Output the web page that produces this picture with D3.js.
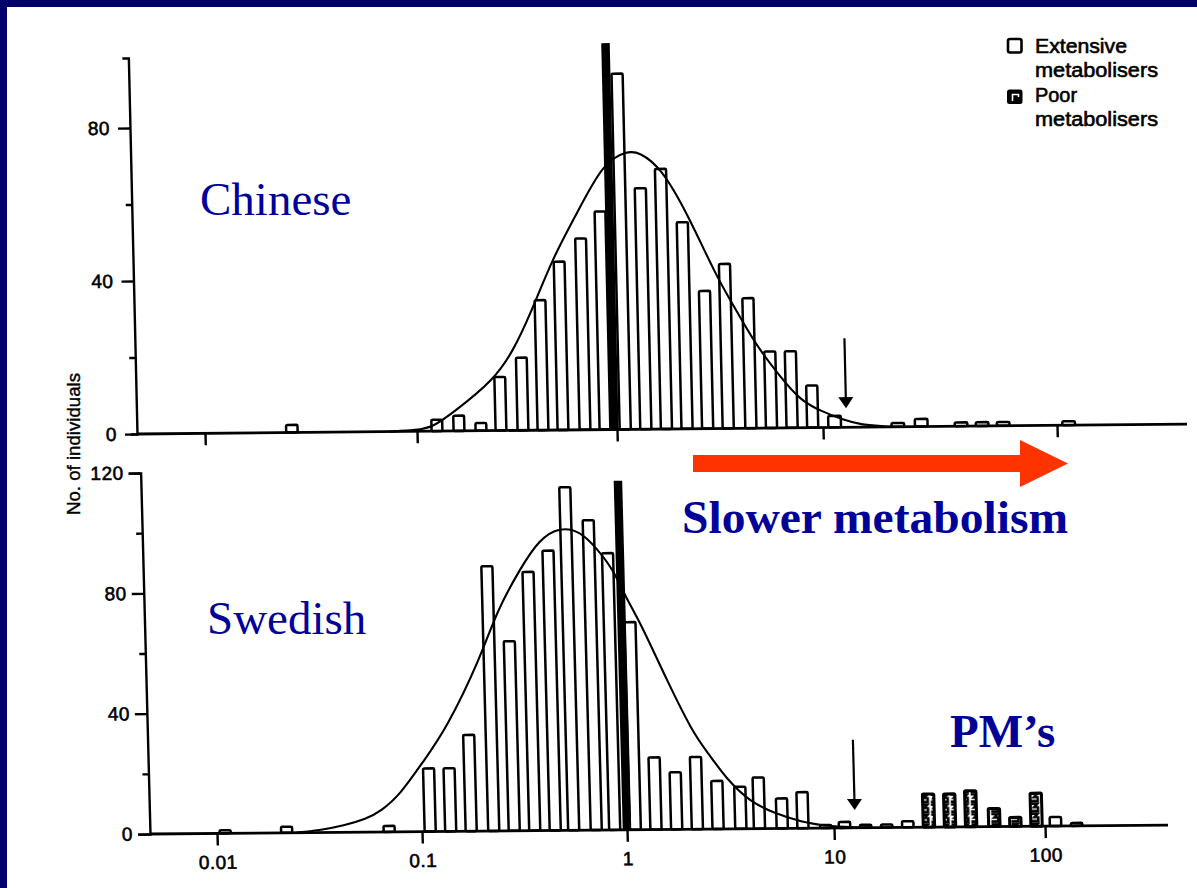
<!DOCTYPE html>
<html><head><meta charset="utf-8"><title>Debrisoquine metabolic ratio</title>
<script src="https://cdn.jsdelivr.net/npm/d3@7/dist/d3.min.js"></script>
<style>html,body{margin:0;padding:0;background:#fff}svg{display:block}</style>
</head><body>
<script>
// ---------------- data ----------------
const xTickValues = [0.01, 0.1, 1, 10, 100];
const xTickLabels = ["0.01", "0.1", "1", "10", "100"];

// Chinese panel: log10(metabolic ratio) bin centre and number of individuals
const chineseLogMR = [-1.59, -0.90, -0.79, -0.68, -0.58, -0.47, -0.37, -0.27, -0.16, -0.06, 0.04, 0.14, 0.24, 0.34, 0.44, 0.54, 0.65, 0.75, 0.85, 0.95, 1.05, 1.32, 1.42, 1.59, 1.68, 1.77, 2.05];
const chineseCount = [2, 3, 4, 2, 14, 19, 34, 44, 50, 57, 93, 63, 68, 54, 36, 43, 34, 20, 20, 11, 3, 1, 2, 1, 1, 1, 1];
// fitted curve (Chinese)
const chineseCurveLog = [-1.13, -1.0, -0.92, -0.82, -0.61, -0.51, -0.42, -0.30, -0.175, -0.04, 0.08, 0.14, 0.24, 0.365, 0.50, 0.60, 0.69, 0.80, 0.89, 0.99, 1.09, 1.16, 1.29];
const chineseCurveN = [0, 0.3, 1.1, 4.7, 13.2, 20.8, 30.3, 45.2, 56.6, 69.7, 72.8, 72.4, 68.5, 56.4, 39.6, 30.1, 21.2, 13.3, 7.3, 4.3, 1.9, 0.6, 0];

// Swedish panel: extensive metabolisers
const swedishLogMR = [-1.96, -1.66, -1.16, -0.96, -0.86, -0.76, -0.65, -0.55, -0.45, -0.35, -0.26, -0.15, -0.06, 0.04, 0.14, 0.24, 0.34, 0.44, 0.55, 0.64, 0.75, 0.85, 0.96, 1.05, 1.15, 1.25, 1.35, 2.05, 2.15];
const swedishCount = [1, 2, 2, 21, 21, 32, 88, 63, 86, 93, 114, 103, 92, 69, 24, 19, 24, 16, 14, 17, 10, 12, 1, 2, 1, 1, 2, 3, 1];
// Swedish panel: poor metabolisers
const swedishPMLogMR = [1.45, 1.55, 1.65, 1.76, 1.86, 1.96];
const swedishPMCount = [11, 11, 12, 6, 3, 11];
// fitted curve (Swedish)
const swedishCurveLog = [-1.62, -1.50, -1.38, -1.27, -1.20, -1.10, -0.99, -0.87, -0.69, -0.61, -0.49, -0.39, -0.29, -0.19, -0.11, -0.035, 0.03, 0.09, 0.21, 0.33, 0.40, 0.49, 0.60, 0.71, 0.84, 0.98, 1.17];
const swedishCurveN = [0, 0.7, 2.2, 4.4, 6.8, 12.5, 22.9, 33.8, 58, 72.7, 86.9, 96.9, 100.8, 99.4, 93.4, 86.6, 76.3, 68.9, 49.8, 32.1, 25.4, 16.3, 8.9, 5.2, 2.1, 0.5, 0];

// thick reference line (MR = 1) and antimode arrows (MR = 12.6)
const markerMR = [0.97, 1.0];       // [Chinese, Swedish]
const markerTop = [101, 116];
const antimodeMR = 12.6;
const arrowTop = [23.3, 29.3];
const arrowTip = [5.0, 5.9];

const legendLabels = [["Extensive", "metabolisers"], ["Poor", "metabolisers"]];

// ---------------- drawing ----------------
const W = 1197, H = 888;
const svg = d3.select("body").append("svg").attr("width", W).attr("height", H);
svg.append("rect").attr("width", W).attr("height", H).attr("fill", "#000068");
svg.append("rect").attr("x", 7).attr("y", 7).attr("width", W - 7).attr("height", H - 7).attr("fill", "#fff");

const defs = svg.append("defs");
const pat = defs.append("pattern").attr("id", "pmPat").attr("patternUnits", "userSpaceOnUse")
  .attr("width", 10).attr("height", 10);
pat.append("rect").attr("width", 10).attr("height", 10).attr("fill", "#fff");
pat.append("path").attr("d", "M1.5,1.5 H8 L4.5,5 H8.5 V8.8 H1.5")
  .attr("fill", "none").attr("stroke", "#000").attr("stroke-width", 2.4);

const FONT = "'Liberation Sans', Arial, Helvetica, sans-serif";
const SERIF = "'Liberation Serif', 'Times New Roman', serif";
const NAVY = "#000099";
const HW = 0.027; // half bar width in log10 units

function panel(cfg) {
  const g = svg.append("g")
    .attr("transform", `matrix(1,${cfg.tilt},${cfg.lean},1,${-cfg.lean * cfg.y0},${-cfg.tilt * cfg.x0})`);
  const x = d3.scaleLog().domain(xTickValues).range(cfg.xRange);
  const y = d3.scaleLinear().domain([0, cfg.yMax]).range([cfg.y0, cfg.yTopPx]);

  const barData = cfg.logs.map((l, i) => ({ l, n: cfg.counts[i], pm: false }))
    .concat((cfg.pmLogs || []).map((l, i) => ({ l, n: cfg.pmCounts[i], pm: true })));

  g.append("g").selectAll("rect").data(barData).join("rect")
    .attr("x", d => x(Math.pow(10, d.l - HW)))
    .attr("width", d => x(Math.pow(10, d.l + HW)) - x(Math.pow(10, d.l - HW)))
    .attr("y", d => y(d.n))
    .attr("height", d => y(0) - y(d.n))
    .attr("rx", 1.2)
    .attr("fill", d => d.pm ? "url(#pmPat)" : "#fff")
    .attr("stroke", "#000").attr("stroke-width", d => d.pm ? 3 : 2.5);

  const curve = cfg.curveLog.map((l, i) => [l, cfg.curveN[i]]);
  g.append("path").datum(curve)
    .attr("d", d3.line().x(d => x(Math.pow(10, d[0]))).y(d => y(d[1])).curve(d3.curveBasis))
    .attr("fill", "none").attr("stroke", "#000").attr("stroke-width", 2.1);

  // thick reference line
  g.append("line")
    .attr("x1", x(cfg.marker)).attr("x2", x(cfg.marker))
    .attr("y1", y(0)).attr("y2", y(cfg.markerTop))
    .attr("stroke", "#000").attr("stroke-width", 8.5);

  // antimode arrow
  const ax = x(antimodeMR);
  g.append("line").attr("x1", ax).attr("x2", ax)
    .attr("y1", y(cfg.arrowTop)).attr("y2", y(cfg.arrowTip) - 8)
    .attr("stroke", "#000").attr("stroke-width", 2.2);
  g.append("path")
    .attr("d", `M${ax - 7.5},${y(cfg.arrowTip) - 11} L${ax + 7.5},${y(cfg.arrowTip) - 11} L${ax},${y(cfg.arrowTip)} Z`)
    .attr("fill", "#000");

  // axes
  g.append("g").attr("transform", `translate(${cfg.x0},0)`)
    .call(d3.axisLeft(y).tickValues(cfg.majorY).tickSize(12).tickSizeOuter(cfg.outer).tickPadding(cfg.labelPad));
  g.append("g").attr("transform", `translate(${cfg.x0},0)`)
    .call(d3.axisLeft(y).tickValues(cfg.minorY).tickSize(6).tickFormat(""))
    .call(s => s.select(".domain").remove());
  g.append("g").attr("transform", `translate(0,${cfg.y0})`)
    .call(d3.axisBottom(x).tickValues(xTickValues).tickSize(12).tickSizeOuter(0).tickPadding(10)
      .tickFormat((d, i) => cfg.showXLabels ? xTickLabels[i] : ""))
    .call(s => s.select(".domain").remove());
  g.append("line").attr("x1", cfg.x0).attr("x2", cfg.xRight).attr("y1", cfg.y0).attr("y2", cfg.y0)
    .attr("stroke", "#000").attr("stroke-width", 2.8);

  g.selectAll(".tick line, .domain").attr("stroke", "#000").attr("stroke-width", 2.4);
  g.selectAll(".tick text").attr("font-family", FONT).attr("font-size", 19)
    .attr("letter-spacing", 0.5).attr("fill", "#000").attr("stroke", "#000").attr("stroke-width", 0.6);
  return g;
}

panel({
  x0: 137, y0: 434, xRight: 1187, lean: 0.023, tilt: -0.0095,
  xRange: [205, 417, 617, 823, 1057], yMax: 98.3, yTopPx: 58,
  majorY: [0, 40, 80], minorY: [20, 60], outer: 6, labelPad: 8, showXLabels: false,
  logs: chineseLogMR, counts: chineseCount,
  curveLog: chineseCurveLog, curveN: chineseCurveN,
  marker: markerMR[0], markerTop: markerTop[0], arrowTop: arrowTop[0], arrowTip: arrowTip[0]
});

panel({
  x0: 150, y0: 834, xRight: 1168, lean: 0.026, tilt: -0.0088,
  xRange: [217, 422, 627, 834, 1045], yMax: 120, yTopPx: 473,
  majorY: [0, 40, 80, 120], minorY: [20, 60, 100], outer: 12, labelPad: 5, showXLabels: true,
  logs: swedishLogMR, counts: swedishCount, pmLogs: swedishPMLogMR, pmCounts: swedishPMCount,
  curveLog: swedishCurveLog, curveN: swedishCurveN,
  marker: markerMR[1], markerTop: markerTop[1], arrowTop: arrowTop[1], arrowTip: arrowTip[1]
});

// y-axis title
svg.append("text").attr("transform", "translate(80,444) rotate(-90)")
  .attr("text-anchor", "middle").attr("font-family", FONT).attr("font-size", 19)
  .attr("stroke", "#000").attr("stroke-width", 0.4)
  .attr("textLength", 142).attr("lengthAdjust", "spacingAndGlyphs")
  .text("No. of individuals");

// legend
const lg = svg.append("g");
lg.append("rect").attr("x", 1008).attr("y", 39).attr("width", 13.5).attr("height", 13.5).attr("rx", 2)
  .attr("fill", "#fff").attr("stroke", "#000").attr("stroke-width", 2.6);
lg.append("rect").attr("x", 1008).attr("y", 90.5).attr("width", 13.5).attr("height", 12.5).attr("rx", 1.5)
  .attr("fill", "#000").attr("stroke", "#000").attr("stroke-width", 2);
lg.append("path").attr("d", "M1012.5,101 V94.5 H1018.5 V97").attr("fill", "none").attr("stroke", "#fff").attr("stroke-width", 1.6);
const legendRows = [
  { t: legendLabels[0][0], y: 53, w: 92 }, { t: legendLabels[0][1], y: 77, w: 123 },
  { t: legendLabels[1][0], y: 102, w: 42 }, { t: legendLabels[1][1], y: 126, w: 123 }
];
lg.selectAll("text").data(legendRows).join("text")
  .attr("x", 1035).attr("y", d => d.y).attr("font-family", FONT).attr("font-size", 20)
  .attr("stroke", "#000").attr("stroke-width", 0.6)
  .attr("textLength", d => d.w).attr("lengthAdjust", "spacingAndGlyphs").text(d => d.t);

// slide overlays
svg.append("text").attr("x", 200).attr("y", 215).attr("font-family", SERIF).attr("font-size", 47)
  .attr("fill", NAVY).text("Chinese");
svg.append("text").attr("x", 207).attr("y", 634).attr("font-family", SERIF).attr("font-size", 47)
  .attr("fill", NAVY).text("Swedish");
svg.append("text").attr("x", 682).attr("y", 533).attr("font-family", SERIF).attr("font-size", 47)
  .attr("font-weight", "bold").attr("fill", NAVY).attr("textLength", 386).attr("lengthAdjust", "spacingAndGlyphs")
  .text("Slower metabolism");
svg.append("text").attr("x", 950).attr("y", 747).attr("font-family", SERIF).attr("font-size", 47)
  .attr("font-weight", "bold").attr("fill", NAVY).text("PM\u2019s");

svg.append("path").attr("d", "M693,455 H1020 V440 L1068,463.5 L1020,487 V472 H693 Z").attr("fill", "#FF3300");
</script>
</body></html>
